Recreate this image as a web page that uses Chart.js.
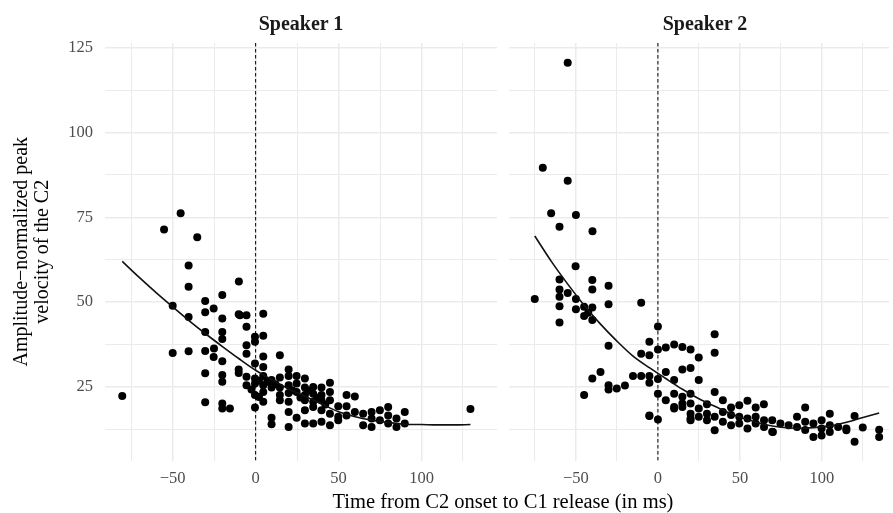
<!DOCTYPE html>
<html>
<head>
<meta charset="utf-8">
<script src="https://cdn.jsdelivr.net/npm/chart.js@4/dist/chart.umd.min.js"></script>
<style>
html,body{margin:0;padding:0;background:#fff;overflow:hidden;width:893px;height:513px;}
#wrap{position:relative;width:893px;height:513px;font-family:"Liberation Serif","Times New Roman",serif;}
canvas{position:absolute;top:0;}
#c1{left:0;}
#c2{left:497px;}
.strip{position:absolute;top:13px;font-weight:bold;font-size:20px;line-height:20px;color:#1a1a1a;transform:translateX(-50%);white-space:nowrap;}
#xtitle{position:absolute;top:491px;left:503px;font-size:20.5px;line-height:20.5px;color:#000;transform:translateX(-50%);white-space:nowrap;}
</style>
</head>
<body>
<div id="wrap">
<canvas id="c1" width="503" height="513"></canvas>
<canvas id="c2" width="396" height="513"></canvas>
<div class="strip" id="s1" style="left:301px"></div>
<div class="strip" id="s2" style="left:705px"></div>
<div id="xtitle"></div>
</div>
<script>
// ---- data ----
const panelTitles = ['Speaker 1', 'Speaker 2'];
const xAxisTitle = 'Time from C2 onset to C1 release (in ms)';
const yAxisTitle = ['Amplitude\u2212normalized peak', 'velocity of the C2'];
const xTickLabels = [-50, 0, 50, 100];
const xMinorTicks = [-75, -25, 25, 75, 125];
const yTickLabels = [25, 50, 75, 100, 125];
const yMinorTicks = [12.5, 37.5, 62.5, 87.5, 112.5];
const vlineX = 0;

const s1X = [-80.4,-55.2,-45.2,-35.2,-40.4,-40.4,-10.1,-50,-30.4,-30.4,-25.3,-20.1,-40.4,-20.1,-10.2,-30.4,-20.1,-20.1,-50,-40.4,-30.4,-25.1,-25.3,-20.1,-30.4,-20.1,-20.1,-10.2,-10.2,-30.4,-20.1,-20.1,-15.5,
  -9.5,-5.5,4.6,-5.5,-0.4,4.6,-0.4,-5.5,-5.5,4.6,14.6,-0.4,4.6,19.9,
  -5.5,-0.4,4.6,9.6,14.6,19.9,24.7,29.7,
  -5.5,-0.4,4.6,9.6,14.6,19.9,24.7,29.7,34.7,39.7,44.8,
  -0.4,4.6,14.6,19.9,24.7,29.7,34.7,39.7,44.8,54.8,59.8,
  4.6,14.6,19.9,29.7,34.7,39.7,44.8,49.8,54.8,
  -0.4,19.9,29.7,34.7,39.7,44.8,49.8,54.8,59.8,
  9.6,9.6,19.9,24.7,29.7,34.7,39.7,44.8,49.8,
  64.8,64.8,69.9,69.9,69.9,74.9,74.9,79.9,79.9,79.9,84.9,84.9,89.9,89.9,129.5,
  2.0,7.0,12.0,22.0,27.0,32.0,37.0,42.0,-2.5,2.0];
const s1Y = [22.3,71.4,76.2,69.1,60.8,54.5,56.1,48.9,50.3,47.0,48.1,52.1,45.6,45.2,46.4,41.2,41.2,39.1,35.0,35.5,35.6,36.3,33.8,32.6,29.0,28.5,26.5,30.1,29.1,20.5,20.1,18.6,18.6,
  46.1,46.1,46.6,42.7,39.8,40.1,38.3,37.3,34.8,34.0,34.3,31.9,30.9,30.1,
  28.0,27.5,28.2,27.0,27.8,28.2,28.2,27.5,
  25.5,26.0,25.5,24.8,24.8,25.5,26.0,24.8,25.0,24.8,26.2,
  22.6,23.5,22.6,23.2,23.5,22.6,23.0,22.6,23.5,22.6,22.2,
  20.6,21.1,20.6,21.1,20.6,21.1,21.1,19.3,19.3,
  18.9,17.6,18.1,19.1,18.1,17.1,16.2,16.6,17.6,
  15.9,14.0,13.2,15.9,14.2,14.2,14.7,13.7,15.2,
  17.1,13.7,17.6,15.7,13.2,18.1,15.2,19.1,16.6,14.2,15.7,13.2,17.6,14.2,18.5,
  26.8,26.5,25.8,24.0,21.9,23.9,21.8,19.8,24.2,22.0];

const s2X = [-55.0,-70.2,-55.0,-65.1,-50.0,-60.0,-39.9,
  -75.1,-50.2,-60,-60,-60,-55,-50,-60,-50,-45,-45,-40,-40,-40,-40,-42.5,-60,-30.1,-30.1,-10.2,-30.1,-40,-35,-45,-30.1,-30.1,-25.1,-20.1,-15.2,-10.2,-5.2,-5.2,-10.2,-5.2,-5.2,0,0,4.8,9.9,14.9,19.9,0,4.8,9.9,14.9,19.9,0,4.8,9.9,9.9,14.9,14.9,19.9,19.9,-5.2,0,19.9,
  34.6,34.6,24.9,24.9,29.9,34.6,39.6,44.6,49.6,54.6,59.6,64.6,89.8,104.8,119.9,34.6,70.1,94.8,99.8,104.8,119.9,124.9,134.9,134.9,114.9,109.9,-5.2,
  9.9,14.9,19.9,19.9,24.9,24.9,29.9,29.9,34.6,39.6,39.6,44.6,44.6,49.6,49.6,54.6,54.6,59.6,59.6,64.7,64.7,69.7,69.7,74.7,79.7,84.8,84.8,89.8,89.8,94.8,99.8,99.8,104.8,114.9];
const s2Y = [120.6,89.6,85.8,76.2,75.7,72.2,70.9,
  50.9,60.6,56.7,53.7,51.6,52.7,50.9,48.8,47.9,48.6,45.9,56.5,53.7,48.4,44.7,46.9,44.0,54.8,49.4,49.8,37.1,27.5,29.4,22.6,25.5,24.2,24.5,25.4,28.2,28.2,28.2,26.2,34.8,34.3,38.3,42.8,36.0,36.6,37.5,36.8,36.0,27.3,29.4,27.0,30.1,30.6,23.0,21.1,23.0,19.1,22.1,19.1,23.0,20.1,16.6,15.4,15.7,
  40.5,35.1,33.7,27.0,19.9,23.5,21.1,18.9,19.6,20.9,18.9,19.9,18.9,17.1,16.4,12.2,11.7,10.2,10.7,11.7,8.8,13.0,12.4,10.2,12.2,13.2,16.4,
  18.6,20.1,17.1,15.2,18.6,16.2,17.1,15.2,16.2,17.6,14.7,16.7,13.7,16.2,14.2,15.7,12.7,16.2,14.2,15.2,13.2,15.2,11.8,14.2,13.7,16.2,13.2,14.7,12.3,14.2,15.2,12.7,13.7,12.7];

const fit1X = [-80.4,-70,-60,-50,-40,-30,-20,-10,0,10,20,30,40,50,60,70,80,90,100,110,120,129.5];
const fit1Y = [62.0,57.2,52.8,48.6,44.5,40.6,36.9,33.3,29.9,27.0,24.4,22.2,19.9,17.7,16.2,15.2,14.5,14.0,13.9,13.8,13.8,13.9];
const fit2X = [-75.1,-65,-55,-45,-35,-25,-15,-5,5,15,25,35,45,55,65,75,85,95,105,115,125,134.9];
const fit2Y = [69.5,62.0,55.3,49.1,43.5,38.5,34.0,30.6,27.4,24.3,21.5,19.2,17.0,15.3,13.9,13.1,12.8,13.0,13.5,14.6,16.0,17.3];

// ---- layout constants ----
const X_MIN = -90.8, X_MAX1 = 145.5, X_MAX2 = 140.9;
const Y_MIN = 3.3, Y_MAX = 126.4;
const FONT = '"Liberation Serif", "Times New Roman", serif';

document.getElementById('s1').textContent = panelTitles[0];
document.getElementById('s2').textContent = panelTitles[1];
document.getElementById('xtitle').textContent = xAxisTitle;

const fmt = v => (v < 0 ? '\u2212' + Math.abs(v) : String(v));
const zip = (xs, ys) => xs.map((x, i) => ({x: x, y: ys[i]}));

function makePanel(id, xs, ys, fx, fy, xMax, first) {
  const xTicks = xTickLabels.concat(xMinorTicks).sort((a, b) => a - b);
  const yTicks = yTickLabels.concat(yMinorTicks).sort((a, b) => a - b);
  return new Chart(document.getElementById(id), {
    type: 'scatter',
    data: {
      datasets: [
        {data: zip(fx, fy), showLine: true, pointRadius: 0, borderColor: '#111', borderWidth: 1.6,
         cubicInterpolationMode: 'monotone', fill: false},
        {data: zip(xs, ys), pointRadius: 4, pointHoverRadius: 4, backgroundColor: '#000', borderWidth: 0},
        {data: [{x: vlineX, y: Y_MIN}, {x: vlineX, y: Y_MAX}], showLine: true, pointRadius: 0,
         borderColor: '#000', borderWidth: 1, borderDash: [3.5, 2.5]}
      ]
    },
    options: {
      responsive: false, animation: false, events: [],
      layout: {padding: {left: first ? 0 : 12, right: first ? 6 : 0, top: 43, bottom: 0}},
      plugins: {legend: {display: false}, tooltip: {enabled: false}, title: {display: false}},
      scales: {
        x: {
          type: 'linear', min: X_MIN, max: xMax,
          afterBuildTicks: s => { s.ticks = xTicks.map(v => ({value: v})); },
          afterFit: s => { s.height = 52.5; },
          ticks: {autoSkip: false, maxRotation: 0, padding: 8, color: '#4d4d4d',
                  font: {family: FONT, size: 16.5},
                  callback: v => (xTickLabels.includes(v) ? fmt(v) : '')},
          grid: {drawTicks: false, color: '#ebebeb',
                 lineWidth: c => (c.tick && xTickLabels.includes(c.tick.value) ? 1.5 : 1)},
          border: {display: false}
        },
        y: {
          type: 'linear', min: Y_MIN, max: Y_MAX,
          afterBuildTicks: s => { s.ticks = yTicks.map(v => ({value: v})); },
          afterFit: s => { s.width = first ? 105 : 0; },
          ticks: {display: first, padding: 12, color: '#4d4d4d', font: {family: FONT, size: 16.5},
                  callback: v => (yTickLabels.includes(v) ? fmt(v) : '')},
          grid: {drawTicks: false, color: '#ebebeb',
                 lineWidth: c => (c.tick && yTickLabels.includes(c.tick.value) ? 1.5 : 1)},
          border: {display: false},
          title: {display: first, text: yAxisTitle, color: '#000',
                  font: {family: FONT, size: 20, lineHeight: 1.05}, padding: {top: 11.2, bottom: 0}}
        }
      }
    }
  });
}

makePanel('c1', s1X, s1Y, fit1X, fit1Y, X_MAX1, true);
makePanel('c2', s2X, s2Y, fit2X, fit2Y, X_MAX2, false);
</script>
</body>
</html>
